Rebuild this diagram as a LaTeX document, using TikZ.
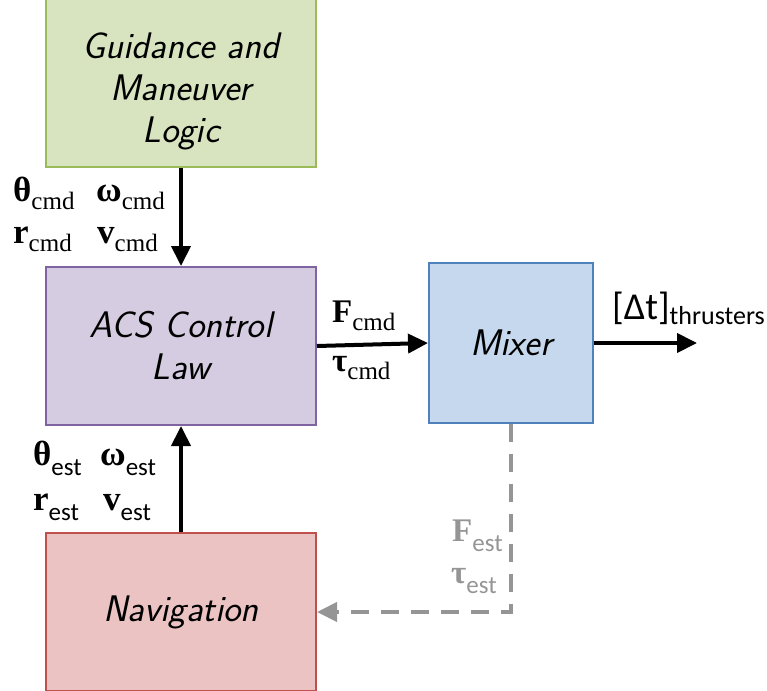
\documentclass[tikz,border=0pt]{standalone}
\usepackage{fontspec}
\newfontfamily\symf{Liberation Serif}
\newfontfamily\calf{Carlito}
\usetikzlibrary{arrows.meta}
\definecolor{gfill}{HTML}{D8E4BF}
\definecolor{gdraw}{HTML}{9BBB59}
\definecolor{pfill}{HTML}{D5CCE1}
\definecolor{pdraw}{HTML}{8064A2}
\definecolor{bfill}{HTML}{C5D8EE}
\definecolor{bdraw}{HTML}{4F81BD}
\definecolor{rfill}{HTML}{EBC3C3}
\definecolor{rdraw}{HTML}{C0504D}
\definecolor{dgray}{HTML}{959595}
\newcommand\cmdlab[3][35]{{\symf\bfseries\fontsize{#1}{#1}\selectfont #2}\lower 8pt\hbox{\symf\fontsize{25}{25}\selectfont #3}}
\newcommand\estlab[3][35]{{\symf\bfseries\fontsize{#1}{#1}\selectfont #2}\lower 10pt\hbox{\calf\fontsize{25}{25}\selectfont #3}}
\tikzset{
  blk/.style={draw, line width=2pt, inner sep=0pt, minimum width=270pt,
    font=\sffamily\slshape\fontsize{37}{42}\selectfont, align=center},
  lab/.style={inner sep=0pt, anchor=base west},
  flow/.style={line width=4pt, -{Triangle[length=20pt,width=19pt]}},
  fb/.style={line width=4pt, dgray, dash pattern=on 18pt off 12pt, -{Triangle[length=20pt,width=19pt]}},
}
\begin{document}
\begin{tikzpicture}[x=1pt,y=-1pt]
\useasboundingbox (0,0) rectangle (767,690);
\node[blk, fill=gfill, draw=gdraw, minimum height=170pt] (guid) at (181,82) {};
\node[inner sep=0pt, font=\sffamily\slshape\fontsize{37}{42}\selectfont, align=center] (guidtxt) at (181,91) {Guidance and\\Maneuver\\Logic};
\node[blk, fill=pfill, draw=pdraw, minimum height=158pt] (acs) at (181,346) {ACS Control\\Law};
\node[blk, fill=bfill, draw=bdraw, minimum width=164pt, minimum height=160pt] (mix) at (511,343) {Mixer};
\node[blk, fill=rfill, draw=rdraw, minimum height=158pt] (nav) at (181,612) {Navigation};
\coordinate (out) at (697,343);
\coordinate (corner) at (511,612);
\draw[flow] (guid.south) -- (acs.north);
\draw[flow] (nav.north) -- (acs.south);
\draw[flow] (acs.east) -- (mix.west);
\draw[flow] (mix.east) -- (out);
\draw[fb] (mix.south) -- (corner) -- (nav.east);
\node[lab] (thc) at (13,201) {\cmdlab{θ}{cmd}};
\node[lab] (omc) at (96,201) {\cmdlab{ω}{cmd}};
\node[lab] (rc) at (13,243) {\cmdlab{r}{cmd}};
\node[lab] (vc) at (97,243) {\cmdlab{v}{cmd}};
\node[lab] (the) at (33,465) {\estlab{θ}{est}};
\node[lab] (ome) at (100,465) {\estlab{ω}{est}};
\node[lab] (re) at (33,510) {\estlab{r}{est}};
\node[lab] (ve) at (103,510) {\estlab{v}{est}};
\node[lab] (fc) at (332,322) {\cmdlab[33]{F}{cmd}};
\node[lab] (tc) at (332,371) {\cmdlab[33]{τ}{cmd}};
\node[lab, text=dgray] (fe) at (452,541) {\estlab[33]{F}{est}};
\node[lab, text=dgray] (te) at (451,583) {\estlab[33]{τ}{est}};
\node[lab] (dt) at (612,319) {{\calf\fontsize{38}{38}\selectfont [Δt]}\lower 5pt\hbox{\calf\fontsize{26}{26}\selectfont thrusters}};
\end{tikzpicture}
\end{document}
